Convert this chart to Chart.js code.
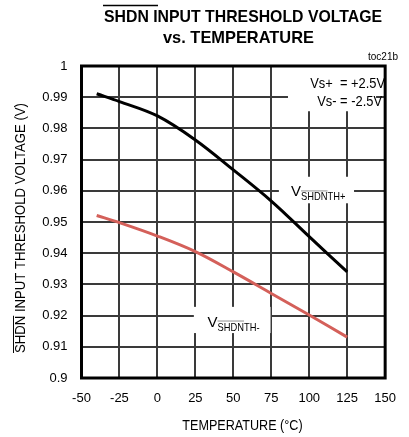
<!DOCTYPE html>
<html lang="en">
<head>
    <meta charset="UTF-8">
    <title>SHDN Input Threshold Voltage vs. Temperature</title>
    <script src="https://cdn.jsdelivr.net/npm/chart.js"></script>
    <style>
        body {
            margin: 0;
            background: white;
        }
        .wrap {
            width: 409px;
            height: 437px;
        }
    </style>
</head>
<body>
    <div class="wrap"><canvas id="chart"></canvas></div>
    <script>
        // data
        const temperatures = [-40, -25, 0, 25, 50, 75, 100, 125];
        const vShdnThPlus = [0.9911, 0.9886, 0.9840, 0.9763, 0.9667, 0.9567, 0.9453, 0.9340];
        const vShdnThMinus = [0.9521, 0.9498, 0.9455, 0.9405, 0.9340, 0.9271, 0.9202, 0.9131];
        const xTickRange = [-50, 150, 25];   // min, max, step
        const yTickRange = [0.9, 1, 0.01];   // min, max, step

        const FONT = "'Liberation Sans', Arial, sans-serif";

        // draws text squeezed to a given width
        function fitText(ctx, text, x, y, width) {
            let w = ctx.measureText(text).width;
            ctx.save();
            ctx.translate(x, y);
            ctx.scale(width / w, 1);
            ctx.fillText(text, 0, 0);
            ctx.restore();
        }

        // V with a subscript "SHDNTH+" (SHDN overlined)
        function drawSubLabel(ctx, x, y, suffix) {
            ctx.fillStyle = "#000";
            ctx.textAlign = "left";
            ctx.textBaseline = "alphabetic";
            ctx.font = "15px " + FONT;
            ctx.fillText("V", x, y);
            let vx = x + ctx.measureText("V").width;
            ctx.font = "11px " + FONT;
            ctx.save();
            ctx.translate(vx, y + 4);
            ctx.scale(0.85, 1);
            ctx.fillText("SHDN" + suffix, 0, 0);
            let sw = ctx.measureText("SHDN").width;
            ctx.strokeStyle = "#888";
            ctx.lineWidth = 1;
            ctx.beginPath();
            ctx.moveTo(0, -9.5);
            ctx.lineTo(sw, -9.5);
            ctx.stroke();
            ctx.restore();
        }

        function whiteBox(ctx, x, y, x0, x1, y0, y1) {
            let px = x.getPixelForValue(x0), py = y.getPixelForValue(y1);
            ctx.fillRect(px, py, x.getPixelForValue(x1) - px, y.getPixelForValue(y0) - py);
        }

        const decorPlugin = {
            id: "decor",
            beforeDatasetsDraw(chart) {
                // white boxes that break the grid behind the notes
                const ctx = chart.ctx;
                const x = chart.scales.x, y = chart.scales.y;
                ctx.save();
                ctx.fillStyle = "#fff";
                whiteBox(ctx, x, y, 86, 144, 0.9855, 1);
                whiteBox(ctx, x, y, 80, 129.5, 0.9560, 0.9645);
                whiteBox(ctx, x, y, 24, 74.5, 0.9144, 0.9228);
                ctx.restore();
            },
            afterDraw(chart) {
                const ctx = chart.ctx;
                const a = chart.chartArea;
                const x = chart.scales.x, y = chart.scales.y;
                ctx.save();

                // frame
                ctx.strokeStyle = "#000";
                ctx.lineWidth = 3;
                ctx.strokeRect(a.left, a.top, a.right - a.left, a.bottom - a.top);

                // title
                ctx.fillStyle = "#000";
                ctx.textBaseline = "alphabetic";
                ctx.textAlign = "left";
                ctx.font = "bold 17px " + FONT;
                fitText(ctx, "SHDN INPUT THRESHOLD VOLTAGE", 104, 21.5, 278);
                ctx.lineWidth = 1.5;
                ctx.beginPath();
                ctx.moveTo(103, 5.5);
                ctx.lineTo(158, 5.5);
                ctx.stroke();
                fitText(ctx, "vs. TEMPERATURE", 163, 43, 151);

                // toc label
                ctx.font = "10px " + FONT;
                ctx.textAlign = "right";
                ctx.fillText("toc21b", 398, 60);

                // y axis title
                ctx.textAlign = "left";
                ctx.font = "14px " + FONT;
                ctx.save();
                ctx.translate(25, 353);
                ctx.rotate(-Math.PI / 2);
                let full = "SHDN INPUT THRESHOLD VOLTAGE (V)";
                let k = 250 / ctx.measureText(full).width;
                ctx.scale(k, 1);
                ctx.fillText(full, 0, 0);
                let sw = ctx.measureText("SHDN").width;
                ctx.lineWidth = 1;
                ctx.beginPath();
                ctx.moveTo(0, -11.5);
                ctx.lineTo(sw, -11.5);
                ctx.stroke();
                ctx.restore();

                // x axis title
                ctx.textAlign = "center";
                ctx.font = "14px " + FONT;
                ctx.save();
                ctx.translate(242.5, 430);
                ctx.scale(0.9, 1);
                ctx.fillText("TEMPERATURE (°C)", 0, 0);
                ctx.restore();

                // supply note
                ctx.font = "14px " + FONT;
                ctx.textAlign = "right";
                ctx.save();
                ctx.translate(385, 88);
                ctx.scale(0.92, 1);
                ctx.fillText("Vs+  = +2.5V", 0, 0);
                ctx.restore();
                ctx.save();
                ctx.translate(382, 106);
                ctx.scale(0.92, 1);
                ctx.fillText("Vs- = -2.5V", 0, 0);
                ctx.restore();

                // curve labels
                drawSubLabel(ctx, x.getPixelForValue(88), y.getPixelForValue(0.9582), "TH+");
                drawSubLabel(ctx, x.getPixelForValue(33), y.getPixelForValue(0.9165), "TH-");

                ctx.restore();
            }
        };

        const ctx = document.getElementById("chart").getContext("2d");
        new Chart(ctx, {
            type: "line",
            data: {
                datasets: [{
                    label: "VSHDNTH+",
                    data: temperatures.map((t, i) => ({ x: t, y: vShdnThPlus[i] })),
                    borderColor: "#000000",
                    borderWidth: 3,
                    pointRadius: 0,
                    tension: 0.35,
                    fill: false
                }, {
                    label: "VSHDNTH-",
                    data: temperatures.map((t, i) => ({ x: t, y: vShdnThMinus[i] })),
                    borderColor: "#d4605a",
                    borderWidth: 3,
                    pointRadius: 0,
                    tension: 0.35,
                    fill: false
                }]
            },
            options: {
                responsive: true,
                maintainAspectRatio: false,
                animation: false,
                layout: {
                    padding: { top: 66, right: 11.5, left: 0, bottom: 0 }
                },
                plugins: {
                    legend: { display: false },
                    tooltip: { enabled: false },
                    title: { display: false }
                },
                scales: {
                    x: {
                        type: "linear",
                        min: xTickRange[0],
                        max: xTickRange[1],
                        afterFit: (scale) => { scale.height = 59; },
                        grid: { color: "#3a3a3a", lineWidth: 2, drawTicks: false },
                        border: { display: false },
                        ticks: {
                            stepSize: xTickRange[2],
                            color: "#000",
                            padding: 13,
                            maxRotation: 0,
                            font: { family: FONT, size: 13 }
                        }
                    },
                    y: {
                        type: "linear",
                        min: yTickRange[0],
                        max: yTickRange[1],
                        afterFit: (scale) => { scale.width = 81.5; },
                        grid: { color: "#3a3a3a", lineWidth: 2, drawTicks: false },
                        border: { display: false },
                        ticks: {
                            stepSize: yTickRange[2],
                            color: "#000",
                            padding: 14,
                            font: { family: FONT, size: 13 },
                            callback: (v) => String(Number(v.toFixed(2)))
                        }
                    }
                }
            },
            plugins: [decorPlugin]
        });
    </script>
</body>
</html>
